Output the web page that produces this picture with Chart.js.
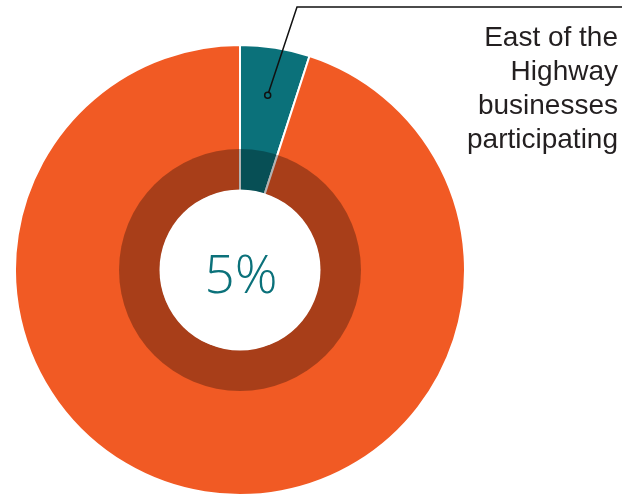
<!DOCTYPE html>
<html>
<head>
<meta charset="utf-8">
<script src="https://cdn.jsdelivr.net/npm/chart.js@4"></script>
<style>
  html, body { margin: 0; padding: 0; background: #fff; overflow: hidden; }
  #wrap { width: 635px; height: 494px; overflow: hidden; }
</style>
</head>
<body>
<!-- canvas is a touch taller than the view so the ring runs off the bottom edge -->
<div id="wrap"><canvas id="myChart" width="635" height="496"></canvas></div>
<script>
var segments = ['East of the Highway businesses participating', 'Other businesses'];
var shares = [5, 95];
var colours = ['#0b717a', '#f15a24'];
var centreText = '5%';
var labelLines = ['East of the', 'Highway', 'businesses', 'participating'];

// dark band across the inner part of the ring, hole cleaned up afterwards
var innerBand = {
    id: 'innerBand',
    afterDatasetsDraw: function(chart) {
        var arc = chart.getDatasetMeta(0).data[0];
        var ctx = chart.ctx;
        var bandOuter = arc.innerRadius + 42;
        ctx.save();
        ctx.beginPath();
        ctx.arc(arc.x, arc.y, bandOuter, 0, Math.PI * 2);
        ctx.fillStyle = 'rgba(0,0,0,0.3)';
        ctx.fill();
        ctx.beginPath();
        ctx.arc(arc.x, arc.y, arc.innerRadius + 1.5, 0, Math.PI * 2);
        ctx.fillStyle = '#ffffff';
        ctx.fill();
        ctx.restore();
    }
};

// centre figure plus the callout for the small slice
var callout = {
    id: 'callout',
    afterDraw: function(chart) {
        var ctx = chart.ctx;
        var arc = chart.getDatasetMeta(0).data[0];
        ctx.save();

        ctx.fillStyle = colours[0];
        ctx.font = '300 53px "Open Sans"';
        ctx.textAlign = 'center';
        ctx.textBaseline = 'alphabetic';
        ctx.fillText(centreText, arc.x + 1, arc.y + 23);

        var mid = (arc.startAngle + arc.endAngle) / 2;
        var r = arc.outerRadius - 48;
        var dx = arc.x + Math.cos(mid) * r;
        var dy = arc.y + Math.sin(mid) * r;

        ctx.strokeStyle = '#111';
        ctx.lineWidth = 1.5;
        ctx.beginPath();
        ctx.moveTo(dx, dy);
        ctx.lineTo(297, 7);
        ctx.lineTo(622, 7);
        ctx.stroke();

        ctx.beginPath();
        ctx.arc(dx, dy, 3, 0, Math.PI * 2);
        ctx.fillStyle = colours[0];
        ctx.fill();
        ctx.stroke();

        ctx.fillStyle = '#231f20';
        ctx.font = '28px "Liberation Sans"';
        ctx.textAlign = 'right';
        for (var i = 0; i < labelLines.length; i++) {
            ctx.fillText(labelLines[i], 618, 46 + i * 34);
        }
        ctx.restore();
    }
};

var chartdata = {
    labels: segments,
    datasets: [
        {
            data: shares,
            backgroundColor: colours,
            borderColor: '#ffffff',
            borderWidth: 2
        }
    ]
};

var options = {
    responsive: false,
    animation: false,
    cutout: 79,
    layout: { padding: { left: 14, right: 169, top: 44, bottom: 0 } },
    plugins: {
        legend: { display: false },
        tooltip: { enabled: false }
    }
};

new Chart(document.getElementById('myChart'), {
    type: 'doughnut',
    data: chartdata,
    options: options,
    plugins: [innerBand, callout]
});
</script>
</body>
</html>
